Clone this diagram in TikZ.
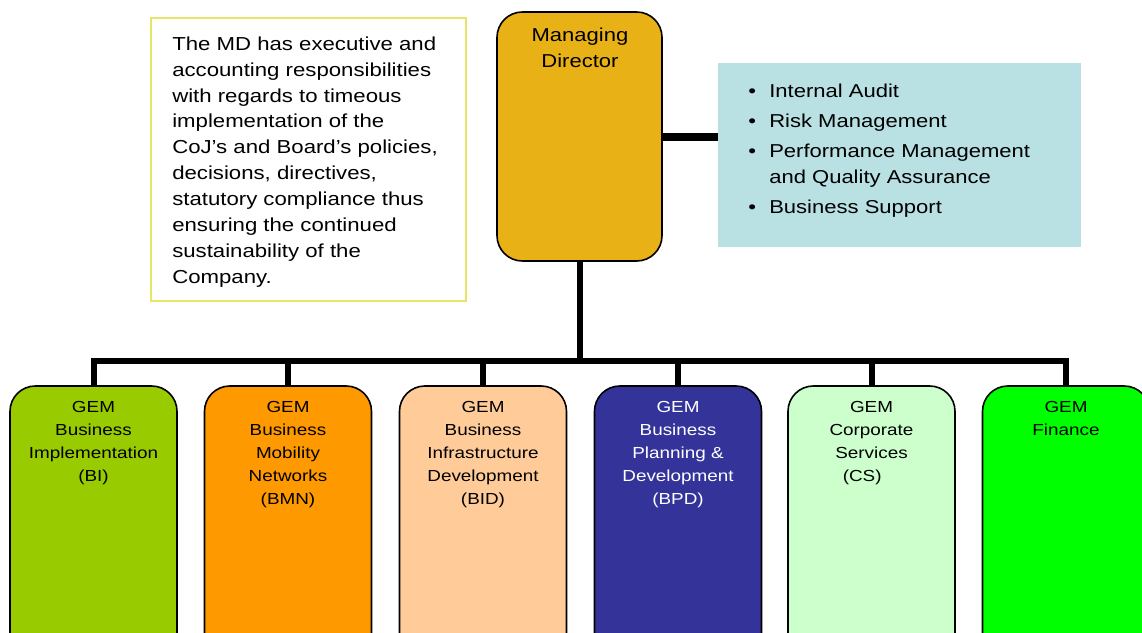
\documentclass[tikz,border=0pt]{standalone}
\usepackage{fontspec}
\setmainfont[FakeStretch=1.18]{Liberation Sans}
\definecolor{mdgold}{RGB}{232,178,23}
\definecolor{auxblue}{RGB}{185,224,227}
\definecolor{noteline}{RGB}{230,230,100}
\definecolor{cBI}{RGB}{153,204,0}
\definecolor{cBMN}{RGB}{255,153,0}
\definecolor{cBID}{RGB}{255,204,153}
\definecolor{cBPD}{RGB}{51,51,153}
\definecolor{cCS}{RGB}{204,255,204}
\definecolor{cFIN}{RGB}{0,255,0}
\newcommand{\bitem}[1]{\makebox[15.75pt][l]{\textbullet}#1}
\begin{document}
\begin{tikzpicture}[x=0.75pt,y=-0.75pt,
  unitbox/.style={draw=black,line width=1.2pt,rounded corners=19pt,
    minimum width=125.25pt,minimum height=205.5pt,inner sep=0pt},
  unittext/.style={anchor=north,inner sep=0pt,align=center,
    font=\fontsize{12}{17.25}\selectfont},
  bus/.style={line width=4.5pt,line join=miter}]
\useasboundingbox (0,0) rectangle (1142,632);
\clip (0,0) rectangle (1142,632);

% note on the MD's responsibilities
\node[draw=noteline,line width=1.5pt,minimum width=236.25pt,minimum height=212.25pt,inner sep=0pt]
  (note) at (308.5,159.5) {};
\node[anchor=north west,inner sep=0pt,align=left,font=\fontsize{14.1}{19.4}\selectfont]
  (notetext) at (172,36.5) {The MD has executive and\\accounting responsibilities\\with regards to timeous\\implementation of the\\CoJ’s and Board’s policies,\\decisions, directives,\\statutory compliance thus\\ensuring the continued\\sustainability of the\\Company.};

% managing director
\node[draw=black,line width=1.2pt,fill=mdgold,rounded corners=19pt,minimum width=123.75pt,
  minimum height=186.75pt,inner sep=0pt] (md) at (579.5,136.5) {};
\node[anchor=north,inner sep=0pt,align=center,font=\fontsize{14}{19.5}\selectfont]
  (mdtext) at (580,28) {Managing\\Director};

% support functions
\node[fill=auxblue,minimum width=272.25pt,minimum height=138pt,inner sep=0pt] (aux) at (899.5,155) {};
\node[anchor=north west,inner sep=0pt,align=left,font=\fontsize{14}{19.5}\selectfont]
  (auxtext) at (748,84) {\bitem{Internal Audit}\\[3pt]\bitem{Risk Management}\\[3pt]
  \bitem{Performance Management}\\\hspace*{15.75pt}and Quality Assurance\\[3pt]\bitem{Business Support}};

% business units
\node[unitbox,fill=cBI]  (bi)  at (93.5,523) {};
\node[unitbox,fill=cBMN] (bmn) at (288,523) {};
\node[unitbox,fill=cBID] (bid) at (483,523) {};
\node[unitbox,fill=cBPD] (bpd) at (678,523) {};
\node[unitbox,fill=cCS]  (cs)  at (871.5,523) {};
\node[unitbox,fill=cFIN] (fin) at (1066,523) {};

\node[unittext] (bit)  at (93.5,401) {GEM\\Business\\Implementation\\(BI)};
\node[unittext] (bmnt) at (288,401) {GEM\\Business\\Mobility\\Networks\\(BMN)};
\node[unittext] (bidt) at (483,401) {GEM\\Business\\Infrastructure\\Development\\(BID)};
\node[unittext,text=white] (bpdt) at (678,401) {GEM\\Business\\Planning \&\\Development\\(BPD)};
\node[unittext] (cst)  at (871.5,401) {GEM\\Corporate\\Services\\(CS)\hspace*{14pt}};
\node[unittext] (fint) at (1066,401) {GEM\\Finance};

% reporting lines
\coordinate (bar) at (580,361);
\draw[line width=6pt] (md.east) -- (aux.west |- md.east);
\draw[bus] (md.south) -- (md.south |- bar);
\draw[bus] (bi.north) -- (bi.north |- bar) -- (fin.north |- bar) -- (fin.north);
\foreach \u in {bmn,bid,bpd,cs}
  \draw[bus] (\u.north) -- (\u.north |- bar);
\end{tikzpicture}
\end{document}
